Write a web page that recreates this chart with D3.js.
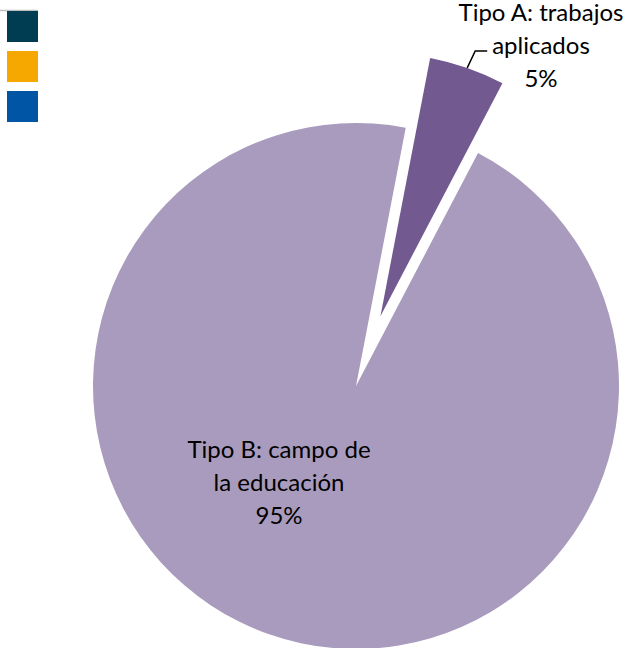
<!DOCTYPE html>
<html><head><meta charset="utf-8">
<script src="https://cdn.jsdelivr.net/npm/d3@7"></script>
<style>body{margin:0;background:#fff}svg{display:block}</style>
</head><body>
<script>
// Data
const categories = ["Tipo A: trabajos aplicados", "Tipo B: campo de la educación"];
const values = [4.65, 95.35];
const labelLines = [["Tipo A: trabajos", "aplicados"], ["Tipo B: campo de", "la educación"]];
const sliceColors = ["#725A91", "#A99BBD"];
const legendColors = ["#003D52", "#F7A800", "#0055A5"];
const legendLabels = ["", "", ""];

const W = 629, H = 648;
const cx = 356, cy = 386, R = 263;
const explode = [74, 0];
const startDeg = 10.9;

const svg = d3.select("body").append("svg").attr("width", W).attr("height", H);

const pie = d3.pie().sort(null).value(d => d)
  .startAngle(startDeg * Math.PI / 180)
  .endAngle(startDeg * Math.PI / 180 + 2 * Math.PI);
const arcs = pie(values);
const arc = d3.arc().innerRadius(0).outerRadius(R);
const total = d3.sum(values);
const fmt = d3.format(".0%");

const g = svg.append("g").attr("transform", `translate(${cx},${cy})`);
g.selectAll("path.slice").data(arcs).join("path")
  .attr("class", "slice")
  .attr("fill", (d, i) => sliceColors[i])
  .attr("d", arc)
  .attr("transform", (d, i) => {
    const a = (d.startAngle + d.endAngle) / 2;
    return `translate(${Math.sin(a) * explode[i]},${-Math.cos(a) * explode[i]})`;
  });

// Labels (offsets relative to pie center)
const labelPos = [{x: 185, y: -365.5}, {x: -77, y: 72}];
const lh = 33;
const font = "Lato, 'Open Sans', sans-serif";
arcs.forEach((d, i) => {
  const lines = labelLines[i].concat([fmt(values[i] / total)]);
  const t = g.append("text").attr("text-anchor", "middle")
    .attr("font-family", font).attr("font-size", 24).attr("fill", "#000");
  lines.forEach((ln, k) => {
    t.append("tspan").attr("x", labelPos[i].x).attr("y", labelPos[i].y + k * lh).text(ln);
  });
});

// Leader line for Tipo A
{
  const d = arcs[0];
  const a = (d.startAngle + d.endAngle) / 2;
  const ox = Math.sin(a) * explode[0], oy = -Math.cos(a) * explode[0];
  const p0 = [ox + Math.sin(a) * R, oy - Math.cos(a) * R];
  const pts = [p0, [p0[0] + 8, p0[1] - 17], [p0[0] + 20, p0[1] - 17]];
  g.append("path").attr("d", d3.line()(pts)).attr("fill", "none")
    .attr("stroke", "#000").attr("stroke-width", 1.5);
}

// Legend
svg.append("line").attr("x1", 0).attr("x2", 38).attr("y1", 10.5).attr("y2", 10.5)
  .attr("stroke", "#BEBEBE").attr("stroke-width", 1.5);
const lg = svg.append("g").attr("transform", "translate(7,11)");
lg.selectAll("rect").data(legendColors).join("rect")
  .attr("x", 0).attr("y", (d, i) => i * 40).attr("width", 31).attr("height", 31)
  .attr("fill", d => d);
lg.selectAll("text").data(legendLabels).join("text")
  .attr("x", 38).attr("y", (d, i) => i * 40 + 21).attr("font-family", font).attr("font-size", 14).text(d => d);
</script>
</body></html>
